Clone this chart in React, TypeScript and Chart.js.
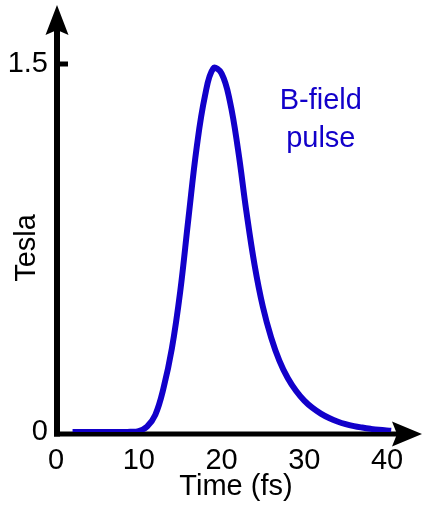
import { useEffect, useRef } from "react";
import { Chart, registerables } from "chart.js";

Chart.register(...registerables);

const timeFs = [2, 3, 4, 5, 6, 7, 8, 9, 10, 11, 12, 13, 14, 15, 16, 17, 18, 19, 20, 21, 22, 23, 24, 25, 26, 27, 28, 29, 30, 31, 32, 33, 34, 35, 36, 37, 38, 39, 40.5];
const teslaValues = [0, 0, 0, 0, 0, 0, 0, 0.001, 0.004, 0.022, 0.07, 0.18, 0.34, 0.57, 0.87, 1.16, 1.37, 1.482, 1.462, 1.35, 1.15, 0.9, 0.68, 0.51, 0.385, 0.29, 0.22, 0.168, 0.128, 0.098, 0.075, 0.057, 0.043, 0.032, 0.024, 0.018, 0.013, 0.009, 0.005];
const xTicks = [0, 10, 20, 30, 40];
const yTicks = [0, 1.5];
const xMax = 43.5;
const yMax = 1.5;
const labelLines = ["B-field", "pulse"];
const labelAt = { x: 32, y: 1.317 };

const BLUE = "#1200CA";
const FONT = "'Liberation Sans', Arial, Helvetica, sans-serif";

const arrowAxes = {
  id: "arrowAxes",
  beforeDatasetsDraw(chart: any) {
    const { ctx } = chart;
    const xs = chart.scales.x;
    const ys = chart.scales.y;
    const ax = xs.getPixelForValue(0) + 1;
    const ay = ys.getPixelForValue(0) + 2;
    const topTip = 5;
    const rightTip = chart.width;
    ctx.save();
    ctx.fillStyle = "#000";
    ctx.fillRect(ax - 3, topTip + 25, 6, ay + 2.5 - (topTip + 25));
    ctx.fillRect(ax - 3, ay - 2.5, rightTip - 24 - (ax - 3), 5);
    ctx.beginPath();
    ctx.moveTo(ax, topTip);
    ctx.lineTo(ax + 11.5, topTip + 30);
    ctx.lineTo(ax, topTip + 25);
    ctx.lineTo(ax - 11.5, topTip + 30);
    ctx.closePath();
    ctx.fill();
    ctx.beginPath();
    ctx.moveTo(rightTip, ay);
    ctx.lineTo(rightTip - 30, ay - 12.5);
    ctx.lineTo(rightTip - 25, ay);
    ctx.lineTo(rightTip - 30, ay + 12.5);
    ctx.closePath();
    ctx.fill();
    const ty = ys.getPixelForValue(yTicks[1]);
    ctx.fillRect(ax, ty - 2.5, 11, 5);
    ctx.restore();
  },
  afterDatasetsDraw(chart: any) {
    const { ctx } = chart;
    const px = chart.scales.x.getPixelForValue(labelAt.x);
    const py = chart.scales.y.getPixelForValue(labelAt.y);
    ctx.save();
    ctx.fillStyle = BLUE;
    ctx.font = `29px ${FONT}`;
    ctx.textAlign = "center";
    ctx.textBaseline = "alphabetic";
    labelLines.forEach((t, i) => ctx.fillText(t, px, py + i * 38));
    ctx.restore();
  },
};

export default function App() {
  const ref = useRef<HTMLCanvasElement | null>(null);
  useEffect(() => {
    if (!ref.current) return;
    const chart = new Chart(ref.current, {
      type: "line",
      data: {
        datasets: [
          {
            data: timeFs.map((t, i) => ({ x: t, y: teslaValues[i] })),
            borderColor: BLUE,
            borderWidth: 6,
            pointRadius: 0,
            tension: 0.4,
            fill: false,
          },
        ],
      },
      options: {
        animation: false,
        responsive: false,
        events: [],
        layout: { padding: { top: 64, right: 6, left: 0, bottom: 0 } },
        plugins: { legend: { display: false }, tooltip: { enabled: false } },
        scales: {
          x: {
            type: "linear",
            min: 0,
            max: xMax,
            afterBuildTicks: (s: any) => {
              s.ticks = xTicks.map((v) => ({ value: v }));
            },
            afterFit: (s: any) => {
              s.height = 74;
            },
            grid: { display: false, drawTicks: false },
            border: { display: false },
            ticks: { color: "#000", padding: 12, maxRotation: 0, autoSkip: false, font: { family: FONT, size: 29 } },
            title: { display: true, text: "Time (fs)", color: "#000", padding: { top: 0, bottom: 2 }, font: { family: FONT, size: 29 } },
          },
          y: {
            type: "linear",
            min: 0,
            max: yMax,
            afterBuildTicks: (s: any) => {
              s.ticks = yTicks.map((v) => ({ value: v }));
            },
            afterFit: (s: any) => {
              s.width = 56;
            },
            grid: { display: false, drawTicks: false },
            border: { display: false },
            ticks: { color: "#000", padding: 8, autoSkip: false, font: { family: FONT, size: 29 } },
            title: { display: true, text: "Tesla", color: "#000", padding: { top: 10, bottom: 0 }, font: { family: FONT, size: 29 } },
          },
        },
      },
      plugins: [arrowAxes],
    } as any);
    return () => chart.destroy();
  }, []);
  return (
    <div style={{ position: "absolute", left: 0, top: 0, width: 422, height: 506, background: "#fff" }}>
      <canvas ref={ref} width={422} height={506} style={{ width: 422, height: 506, display: "block" }} />
    </div>
  );
}
